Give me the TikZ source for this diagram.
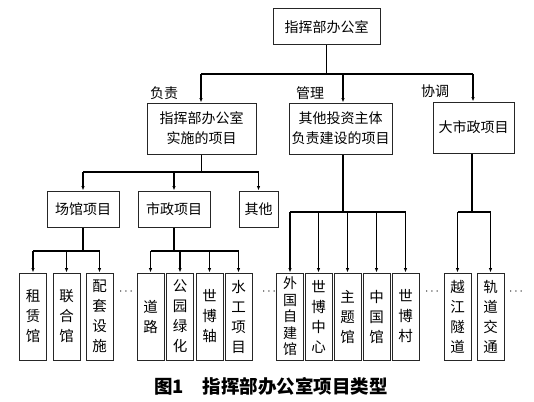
\documentclass[tikz,border=0pt]{standalone}
\usepackage{fontspec}
\setmainfont{Noto Sans CJK SC}
\usetikzlibrary{arrows.meta}
\begin{document}
\begin{tikzpicture}[x=1pt,y=-1pt,
  box/.style={draw=black!85, line width=1pt, inner sep=0pt, align=center, font=\fontsize{14}{20}\selectfont},
  midbox/.style={box, minimum height=36pt},
  leaf/.style={box, minimum width=27pt, minimum height=87pt, font=\fontsize{14.5}{20}\selectfont},
  leaffive/.style={leaf, font=\fontsize{14}{16.5}\selectfont},
  ln/.style={line width=1.3pt},
  arr/.style={ln, -{Latex[length=4.5pt,width=3.5pt]}},
  lab/.style={font=\fontsize{14}{16}\selectfont, inner sep=0pt},
  dots/.style={inner sep=0pt, font=\fontsize{13}{14}\selectfont}]
\fill[white] (0,0) rectangle (534,401);
\useasboundingbox (0,0) rectangle (534,401);

% level 1
\node[box, minimum width=107pt, minimum height=36pt] (top) at (326.5,27) {指挥部办公室};

% level 2
\node[box, minimum width=109pt, minimum height=51pt] (b2) at (201.5,128.5) {指挥部办公室\\实施的项目};
\node[box, minimum width=103pt, minimum height=51pt] (b3) at (340.5,128.5) {其他投资主体\\负责建设的项目};
\node[box, minimum width=81pt, minimum height=51pt] (b4) at (473.5,127.5) {大市政项目};

\node[lab] (f1) at (164,93) {负责};
\node[lab] (f2) at (310,93) {管理};
\node[lab] (f3) at (435,91) {协调};

\coordinate (barL) at (201,74);
\coordinate (barM) at (343,74);
\coordinate (barR) at (473,74);
\draw[ln] (top.south) -- (top.south |- barL);
\draw[ln] (barL) -- (barR);
\draw[arr] (barL) -- (b2.north -| barL);
\draw[arr] (barM) -- (b3.north -| barM);
\draw[arr] (barR) -- (b4.north -| barR);

% level 3
\node[midbox, minimum width=72pt] (s1) at (83,209) {场馆项目};
\node[midbox, minimum width=72pt] (s2) at (174,209) {市政项目};
\node[midbox, minimum width=39pt] (s3) at (258.5,209) {其他};

\coordinate (c0) at (0,172);
\draw[ln] (b2.south) -- (b2.south |- c0);
\draw[ln] (s1.north |- c0) -- (s3.north |- c0);
\foreach \n in {s1,s2,s3} \draw[arr] (\n.north |- c0) -- (\n.north);

% leaves
\node[leaf] (l1) at (33,316.5) {租\\赁\\馆};
\node[leaf] (l2) at (66.5,316.5) {联\\合\\馆};
\node[leaf] (l3) at (99.5,316.5) {配\\套\\设\\施};
\node[leaf] (l4) at (150.5,316.5) {道\\路};
\node[leaf] (l5) at (180,316.5) {公\\园\\绿\\化};
\node[leaf] (l6) at (209.5,316.5) {世\\博\\轴};
\node[leaf] (l7) at (238.5,316.5) {水\\工\\项\\目};
\node[leaffive] (m1) at (290,316.5) {外\\国\\自\\建\\馆};
\node[leaf] (m2) at (318.5,316.5) {世\\博\\中\\心};
\node[leaf] (m3) at (347.5,316.5) {主\\题\\馆};
\node[leaf] (m4) at (376.5,316.5) {中\\国\\馆};
\node[leaf] (m5) at (405.5,316.5) {世\\博\\村};
\node[leaf] (n1) at (457.5,316.5) {越\\江\\隧\\道};
\node[leaf] (n2) at (490.5,316.5) {轨\\道\\交\\通};

\node[dots] (d1) at (126,292) {$\cdots$};
\node[dots] (d2) at (269,292) {$\cdots$};
\node[dots] (d3) at (432,292) {$\cdots$};
\node[dots] (d4) at (516,292) {$\cdots$};

\coordinate (k0) at (0,251);
\draw[ln] (s1.south) -- (s1.south |- k0);
\draw[ln] (l1.north |- k0) -- (l3.north |- k0);
\foreach \n in {l1,l2,l3} \draw[arr] (\n.north |- k0) -- (\n.north);
\draw[ln] (s2.south) -- (s2.south |- k0);
\draw[ln] (l4.north |- k0) -- (l7.north |- k0);
\foreach \n in {l4,l5,l6,l7} \draw[arr] (\n.north |- k0) -- (\n.north);

\coordinate (p0) at (343,212);
\coordinate (q0) at (472,212);
\draw[ln] (b3.south -| p0) -- (p0);
\draw[ln] (m1.north |- p0) -- (m5.north |- p0);
\foreach \n in {m1,m2,m3,m4,m5} \draw[arr] (\n.north |- p0) -- (\n.north);
\draw[ln] (b4.south -| q0) -- (q0);
\draw[ln] (n1.north |- q0) -- (n2.north |- q0);
\foreach \n in {n1,n2} \draw[arr] (\n.north |- q0) -- (\n.north);

% caption
\node[anchor=west, inner sep=0pt, font=\fontsize{18.5}{20}\selectfont\bfseries] (cap) at (154,386) {图1\hspace{19pt}指挥部办公室项目类型};
\end{tikzpicture}
\end{document}
